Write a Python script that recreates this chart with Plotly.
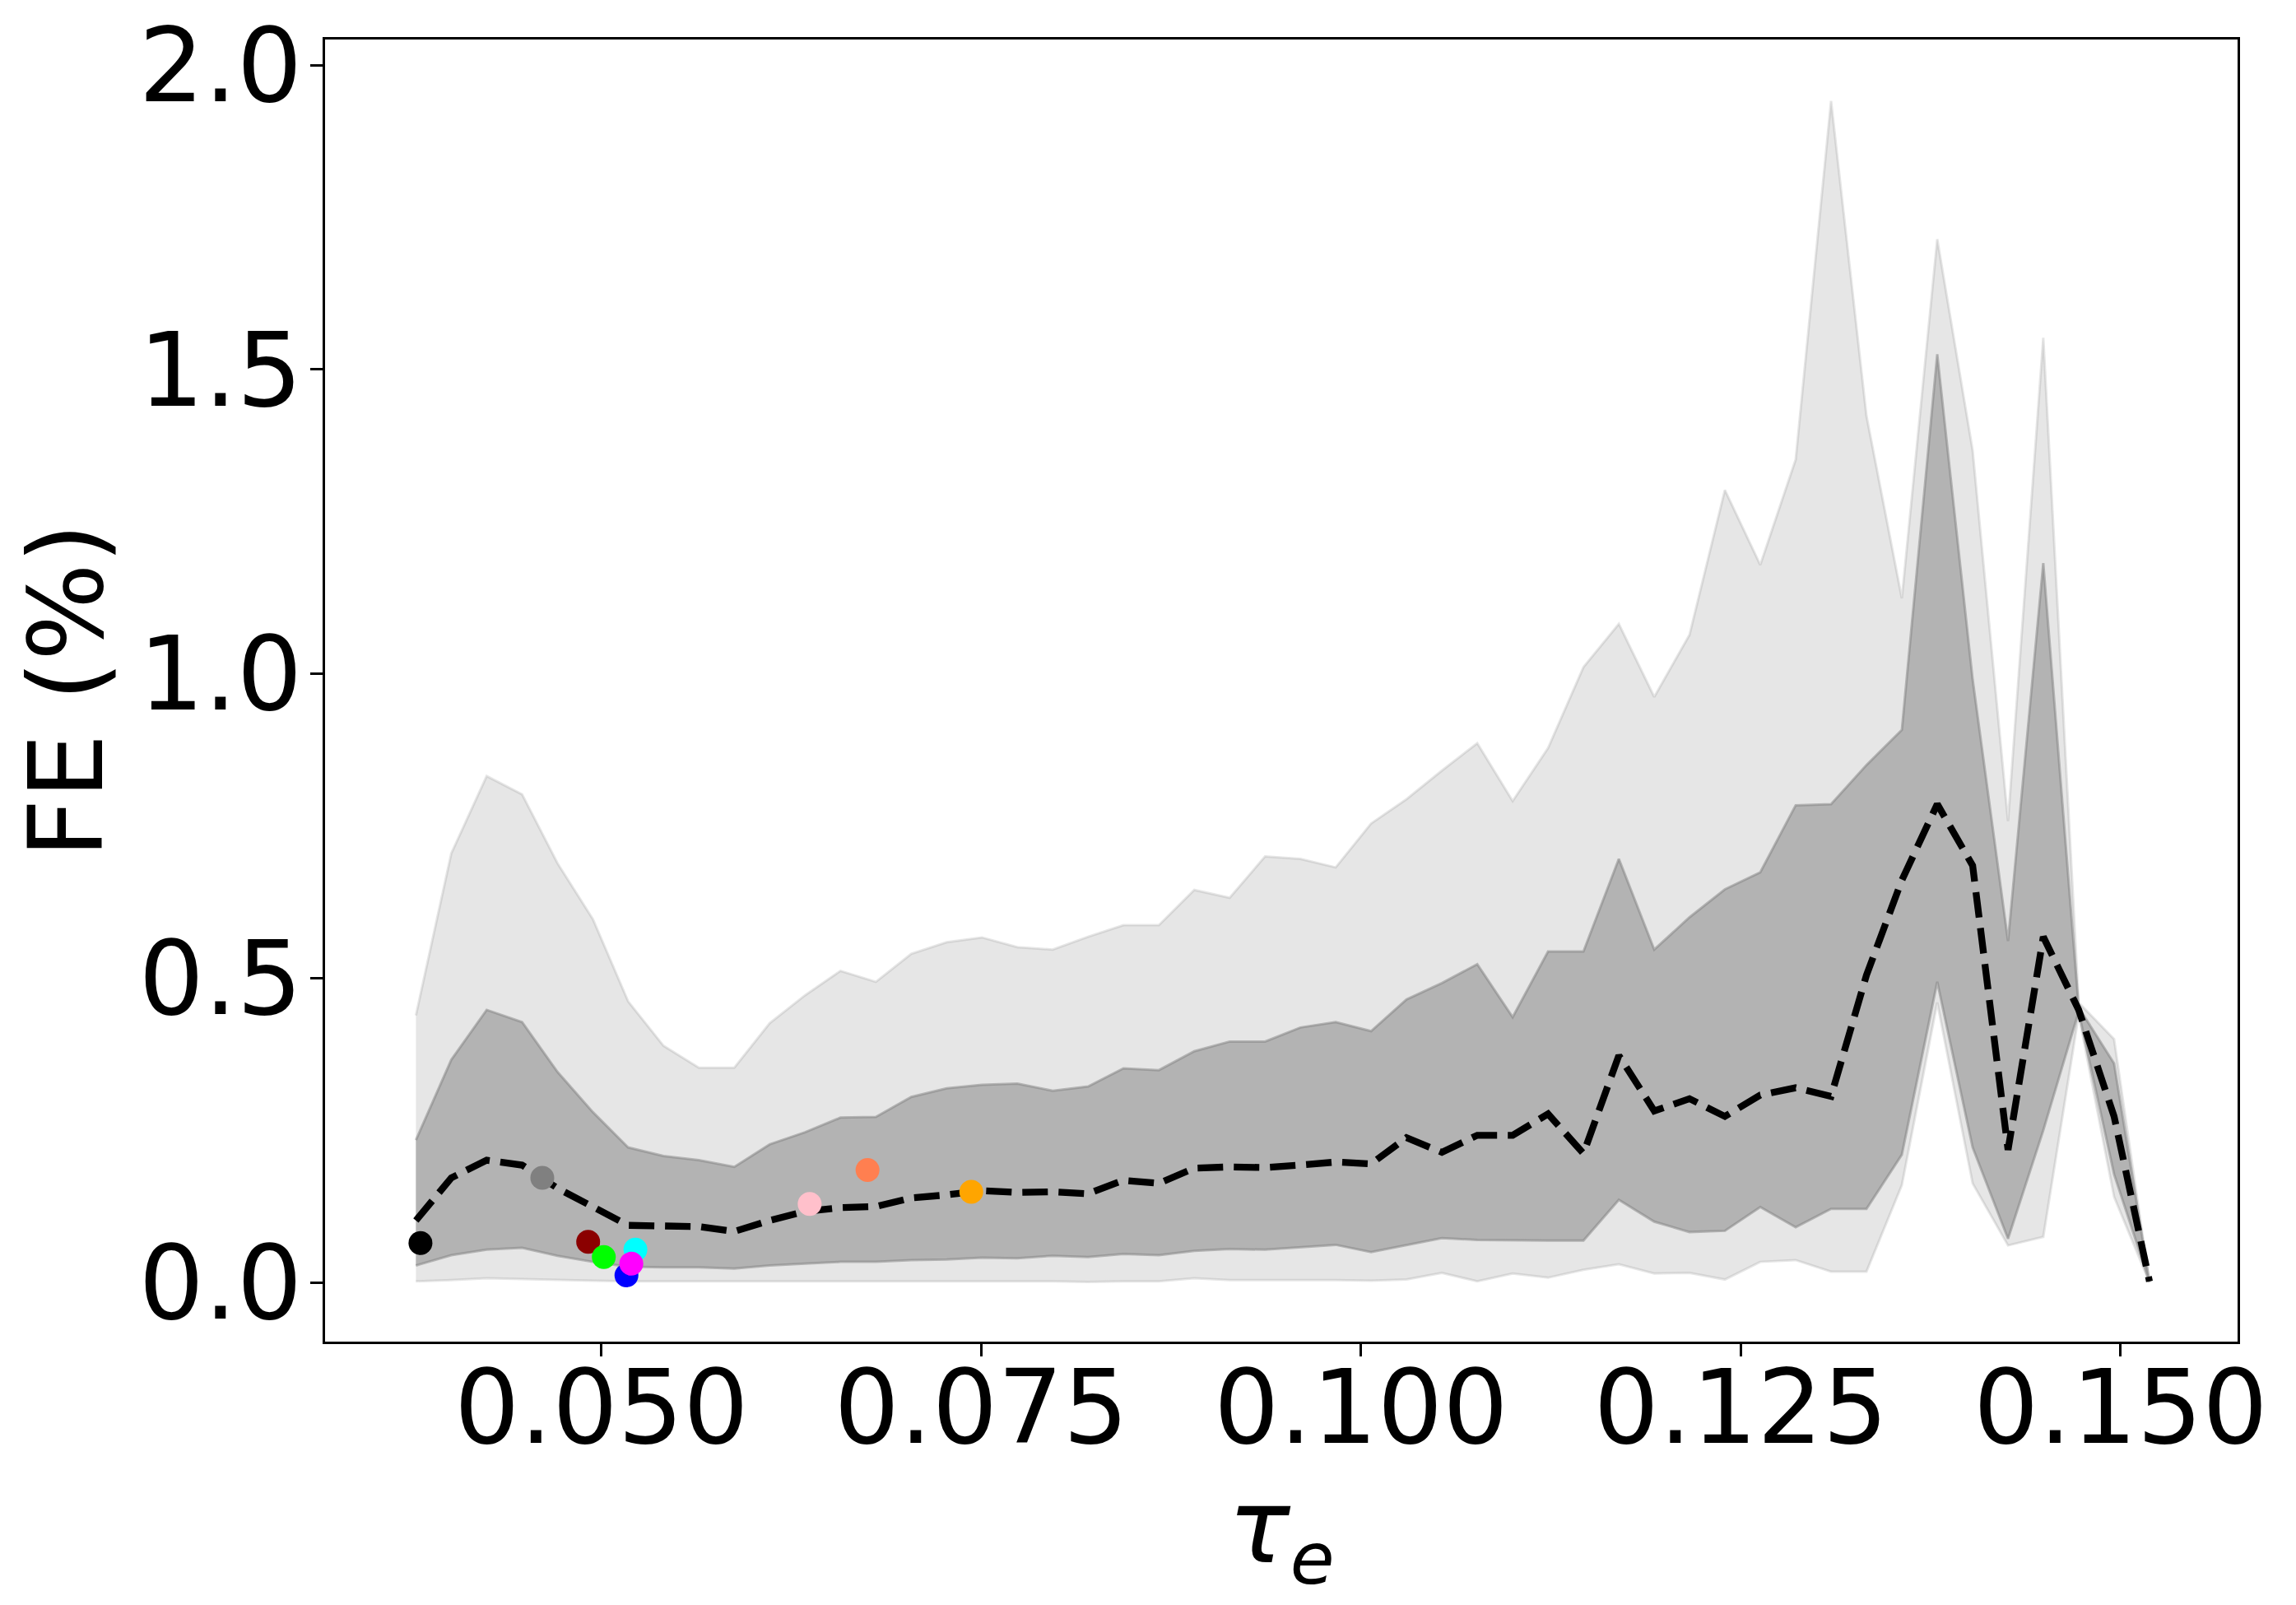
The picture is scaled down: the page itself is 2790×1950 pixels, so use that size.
import plotly.graph_objects as go

# tau_e bin positions
tau_e = [0.03778, 0.04011, 0.04244, 0.04477, 0.04710, 0.04943, 0.05175, 0.05408, 0.05641, 0.05874,
         0.06107, 0.06340, 0.06573, 0.06806, 0.07039, 0.07272, 0.07504, 0.07737, 0.07970, 0.08203,
         0.08436, 0.08669, 0.08902, 0.09135, 0.09368, 0.09601, 0.09833, 0.10066, 0.10299, 0.10532,
         0.10765, 0.10998, 0.11231, 0.11464, 0.11697, 0.11930, 0.12162, 0.12395, 0.12628, 0.12861,
         0.13094, 0.13327, 0.13560, 0.13793, 0.14026, 0.14259, 0.14491, 0.14724, 0.14957, 0.15190]

# outer band (upper / lower)
outer_hi = [0.439, 0.705, 0.832, 0.802, 0.689, 0.597, 0.462, 0.389, 0.353, 0.353,
            0.426, 0.472, 0.512, 0.494, 0.540, 0.559, 0.567, 0.551, 0.547, 0.568,
            0.587, 0.587, 0.645, 0.632, 0.700, 0.696, 0.682, 0.754, 0.794, 0.841,
            0.886, 0.791, 0.878, 1.011, 1.082, 0.962, 1.064, 1.302, 1.179, 1.352,
            1.941, 1.424, 1.124, 1.714, 1.367, 0.758, 1.552, 0.460, 0.400, 0.004]
outer_lo = [0.002, 0.004, 0.007, 0.006, 0.004, 0.003, 0.002, 0.001, 0.001, 0.001,
            0.001, 0.001, 0.001, 0.001, 0.001, 0.002, 0.002, 0.002, 0.002, 0.001,
            0.002, 0.002, 0.007, 0.004, 0.004, 0.004, 0.004, 0.003, 0.005, 0.016,
            0.002, 0.015, 0.008, 0.021, 0.030, 0.015, 0.016, 0.005, 0.034, 0.037,
            0.018, 0.018, 0.160, 0.460, 0.163, 0.061, 0.075, 0.440, 0.141, 0.000]

# inner band (upper / lower)
inner_hi = [0.234, 0.366, 0.448, 0.428, 0.346, 0.280, 0.222, 0.208, 0.201, 0.190,
            0.227, 0.247, 0.271, 0.272, 0.305, 0.319, 0.325, 0.327, 0.315, 0.322,
            0.352, 0.349, 0.380, 0.396, 0.396, 0.419, 0.428, 0.413, 0.465, 0.492,
            0.523, 0.436, 0.544, 0.544, 0.696, 0.547, 0.600, 0.646, 0.674, 0.784,
            0.786, 0.850, 0.908, 1.525, 0.991, 0.561, 1.182, 0.452, 0.360, 0.003]
inner_lo = [0.028, 0.045, 0.054, 0.057, 0.044, 0.034, 0.026, 0.025, 0.025, 0.023,
            0.028, 0.031, 0.034, 0.034, 0.037, 0.038, 0.041, 0.040, 0.044, 0.042,
            0.047, 0.045, 0.052, 0.055, 0.054, 0.058, 0.062, 0.050, 0.061, 0.073,
            0.070, 0.069, 0.069, 0.069, 0.136, 0.100, 0.083, 0.085, 0.124, 0.091,
            0.121, 0.121, 0.210, 0.494, 0.222, 0.072, 0.250, 0.445, 0.178, 0.001]

# median
median = [0.102, 0.172, 0.201, 0.193, 0.155, 0.125, 0.094, 0.093, 0.092, 0.084,
          0.102, 0.117, 0.123, 0.125, 0.139, 0.144, 0.151, 0.148, 0.149, 0.146,
          0.168, 0.163, 0.188, 0.190, 0.189, 0.193, 0.198, 0.195, 0.238, 0.214,
          0.242, 0.242, 0.277, 0.212, 0.373, 0.282, 0.302, 0.273, 0.308, 0.320,
          0.306, 0.505, 0.661, 0.786, 0.685, 0.218, 0.568, 0.448, 0.273, 0.002]

# individual points
pt_x = [0.03808, 0.04610, 0.04912, 0.05015, 0.05164, 0.05223, 0.05196, 0.06370, 0.06751, 0.07434]
pt_y = [0.065, 0.172, 0.067, 0.042, 0.012, 0.054, 0.031, 0.129, 0.185, 0.149]
pt_colors = ["black", "gray", "darkred", "lime", "blue", "cyan", "magenta", "pink", "coral", "orange"]

x_ticks = [0.050, 0.075, 0.100, 0.125, 0.150]
x_ticktext = ["0.050", "0.075", "0.100", "0.125", "0.150"]
y_ticks = [0.0, 0.5, 1.0, 1.5, 2.0]
y_ticktext = ["0.0", "0.5", "1.0", "1.5", "2.0"]

FONT = "DejaVu Sans"
fig = go.Figure()

band_col = "rgba(128,128,128,0.2)"
fig.add_trace(go.Scatter(
    x=tau_e + tau_e[::-1], y=outer_hi + outer_lo[::-1],
    fill="toself", fillcolor=band_col, mode="lines",
    line=dict(color=band_col, width=3), hoverinfo="skip", showlegend=False))

inner_col = "rgba(128,128,128,0.5)"
fig.add_trace(go.Scatter(
    x=tau_e + tau_e[::-1], y=inner_hi + inner_lo[::-1],
    fill="toself", fillcolor=inner_col, mode="lines",
    line=dict(color=inner_col, width=3), hoverinfo="skip", showlegend=False))

fig.add_trace(go.Scatter(
    x=tau_e, y=median, mode="lines",
    line=dict(color="black", width=8.3, dash="31px,13px"),
    showlegend=False))

for xx, yy, cc in zip(pt_x, pt_y, pt_colors):
    fig.add_trace(go.Scatter(
        x=[xx], y=[yy], mode="markers",
        marker=dict(color=cc, size=29, line=dict(width=0)),
        showlegend=False))

axis_common = dict(
    showgrid=False, zeroline=False, showline=True, mirror=True,
    linecolor="black", linewidth=2.5, ticks="outside", ticklen=15,
    tickwidth=2.5, tickcolor="black", ticklabeloverflow="allow",
    tickfont=dict(family=FONT, size=125, color="black"),
)

fig.update_layout(
    width=2790, height=1950,
    margin=dict(l=387, r=79, t=40, b=328, autoexpand=False),
    plot_bgcolor="white", paper_bgcolor="white",
    font=dict(family=FONT, color="black"),
    xaxis=dict(range=[0.0318, 0.1577], tickvals=x_ticks, ticktext=x_ticktext,
               ticklabelstandoff=-45,
               title=dict(text="<i>τ</i><sub><i>e</i></sub>",
                          font=dict(family=FONT, size=125), standoff=20),
               automargin=False, **axis_common),
    yaxis=dict(range=[-0.097, 2.042], tickvals=y_ticks, ticktext=y_ticktext,
               ticklabelstandoff=-15,
               title=dict(text="FE (%)", font=dict(family=FONT, size=125), standoff=20),
               automargin=False, **axis_common),
)

fig.write_html("out.html")
